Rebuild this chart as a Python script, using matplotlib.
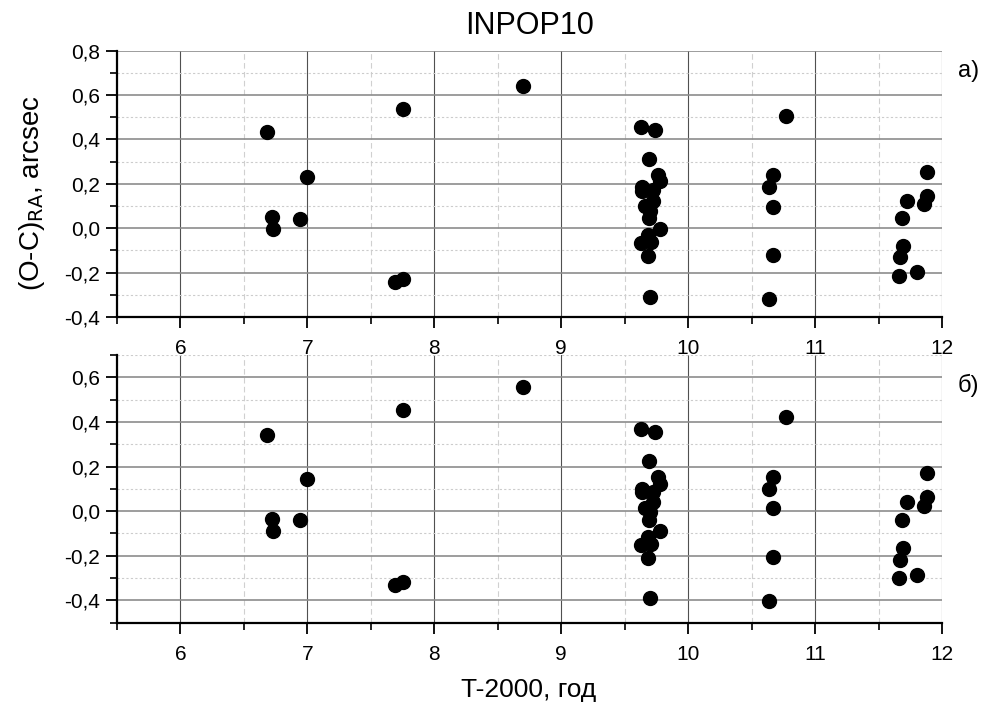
import numpy as np
import matplotlib
matplotlib.use("Agg")
import matplotlib.pyplot as plt
from matplotlib.ticker import FixedLocator, FuncFormatter

plt.rcParams['font.family'] = ['Liberation Sans', 'DejaVu Sans']

# epoch T-2000 (same for both panels)
t = [6.68, 6.72, 6.73, 6.94, 7.00, 7.69, 7.755, 7.753, 8.70,
     9.63, 9.74, 9.69, 9.76, 9.775, 9.635, 9.635, 9.725, 9.72, 9.66,
     9.70, 9.69, 9.78, 9.68, 9.63, 9.71, 9.685, 9.70,
     10.774, 10.672, 10.635, 10.67, 10.67, 10.635,
     11.882, 11.882, 11.861, 11.722, 11.685, 11.693, 11.67, 11.66, 11.806]

# panel a)
oc_a = [0.432, 0.05, -0.005, 0.042, 0.231, -0.243, -0.23, 0.539, 0.641,
        0.455, 0.443, 0.314, 0.24, 0.212, 0.185, 0.17, 0.174, 0.122, 0.10,
        0.078, 0.045, -0.003, -0.03, -0.065, -0.06, -0.126, -0.308,
        0.507, 0.24, 0.186, 0.097, -0.12, -0.32,
        0.254, 0.147, 0.109, 0.123, 0.045, -0.078, -0.131, -0.215, -0.198]

# panel б)
oc_b = [0.343, -0.035, -0.089, -0.04, 0.145, -0.331, -0.318, 0.454, 0.556,
        0.37, 0.356, 0.226, 0.154, 0.124, 0.10, 0.085, 0.087, 0.04, 0.016,
        -0.003, -0.039, -0.087, -0.114, -0.151, -0.146, -0.211, -0.391,
        0.422, 0.154, 0.099, 0.012, -0.205, -0.403,
        0.169, 0.064, 0.025, 0.039, -0.039, -0.163, -0.217, -0.301, -0.286]

comma = FuncFormatter(lambda v, p: f"{v:.1f}".replace('.', ','))
xfmt = FuncFormatter(lambda v, p: f"{v:.0f}")

fig = plt.figure(figsize=(9.82, 7.09), dpi=100)
ax1 = fig.add_axes([0.1191, 0.5529, 0.8402, 0.3756])
ax2 = fig.add_axes([0.1191, 0.1217, 0.8402, 0.3776])


def style(ax, ymin, ymax, ymaj):
    ax.set_xlim(5.5, 12)
    ax.set_ylim(ymin, ymax)
    ax.xaxis.set_major_locator(FixedLocator(np.arange(6, 13, 1)))
    ax.xaxis.set_minor_locator(FixedLocator(np.arange(5.5, 12.1, 0.5)))
    ax.yaxis.set_major_locator(FixedLocator(ymaj))
    ax.yaxis.set_minor_locator(FixedLocator(np.round(np.arange(ymin, ymax + 0.01, 0.1), 2)))
    ax.xaxis.set_major_formatter(xfmt)
    ax.yaxis.set_major_formatter(comma)
    for s in ['top', 'right']:
        ax.spines[s].set_visible(False)
    for s in ['left', 'bottom']:
        ax.spines[s].set_linewidth(1.6)
    ax.tick_params(which='major', direction='out', length=8, width=1.3, labelsize=15, pad=4)
    ax.tick_params(which='minor', direction='out', length=5, width=1.2)
    ax.tick_params(axis='x', which='major', pad=8)
    ax.grid(axis='x', which='major', color='#505050', lw=0.8)
    ax.grid(axis='x', which='minor', color='#d0d0d0', lw=0.8, ls=(0, (5, 3)))
    ax.grid(axis='y', which='major', color='#8c8c8c', lw=1.2)
    ax.grid(axis='y', which='minor', color='#cccccc', lw=0.8, ls=(0, (2, 2)))
    ax.set_axisbelow(True)


style(ax1, -0.4, 0.8, np.round(np.arange(-0.4, 0.81, 0.2), 2))
style(ax2, -0.5, 0.7, np.round(np.arange(-0.4, 0.61, 0.2), 2))

ax1.scatter(t, oc_a, s=100, color='black', zorder=3, clip_on=False)
ax2.scatter(t, oc_b, s=100, color='black', zorder=3, clip_on=False)

# hide gridlines falling on the axes edges
for ax in (ax1, ax2):
    ylo, yhi = ax.get_ylim()
    for tk in ax.yaxis.get_major_ticks() + ax.yaxis.get_minor_ticks():
        if abs(tk.get_loc() - yhi) < 1e-6 or abs(tk.get_loc() - ylo) < 1e-6:
            tk.gridline.set_visible(False)
    for tk in ax.xaxis.get_major_ticks() + ax.xaxis.get_minor_ticks():
        if abs(tk.get_loc() - 12) < 1e-6 or abs(tk.get_loc() - 5.5) < 1e-6:
            tk.gridline.set_visible(False)

ax1.set_title("INPOP10", fontsize=22, pad=12)
fig.text(0.538, 0.027, "T-2000, год", ha='center', va='center', fontsize=19)
fig.text(0.033, 0.728, "(O-C)$_{\\mathrm{RA}}$, arcsec", rotation=90, ha='center', va='center',
         fontsize=20)
fig.text(0.997, 0.9, "а)", ha='right', va='center', fontsize=17)
fig.text(0.997, 0.457, "б)", ha='right', va='center', fontsize=17)

fig.savefig("out.png", dpi=100)
